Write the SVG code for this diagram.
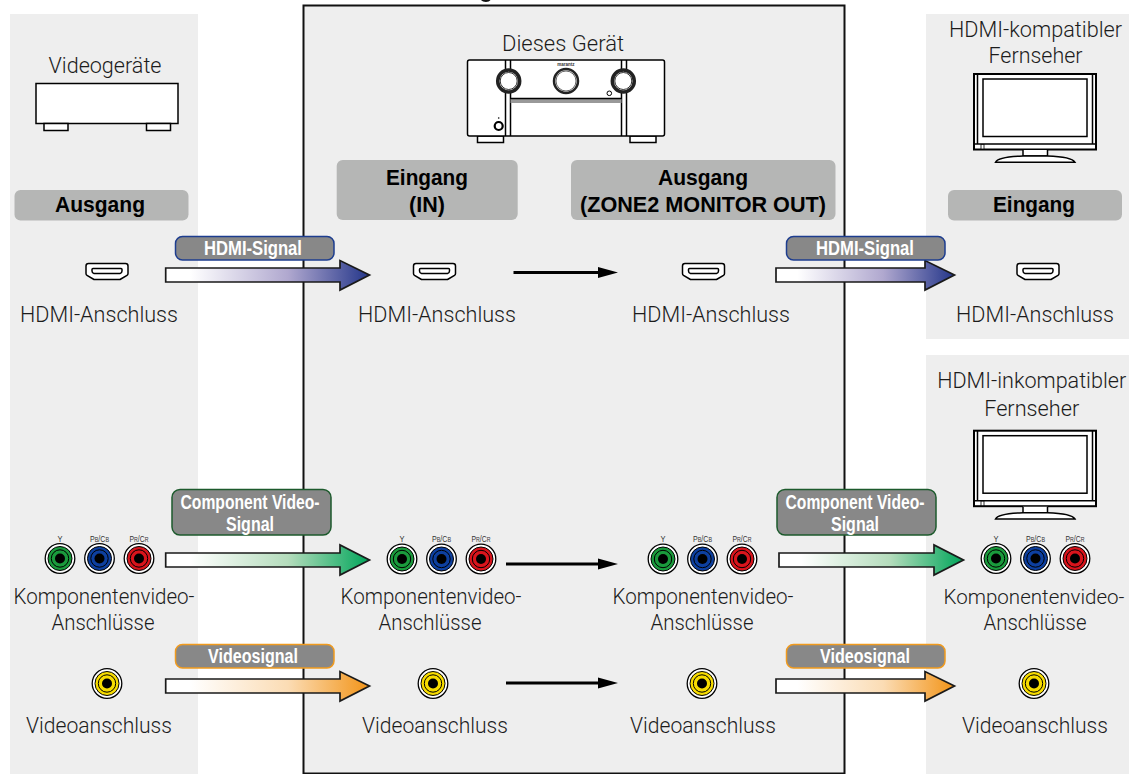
<svg xmlns="http://www.w3.org/2000/svg" width="1129" height="774" viewBox="0 0 1129 774">
<style>
text{font-family:"Liberation Sans",Arial,sans-serif}
.lb{font-family:Roboto,"Liberation Sans",sans-serif;font-weight:300;font-size:22px;fill:#1c1c1c;text-anchor:middle}
.hd{font-size:21.500px;font-weight:bold;fill:#000;text-anchor:middle}
.sg{font-size:19.500px;font-weight:bold;fill:#fff;text-anchor:middle}
.jl{font-size:8.500px;fill:#333;text-anchor:middle}
.jl tspan{font-size:6.500px}
.panel{fill:#eee}
.box{fill:#b5b6b5}
.ln{fill:#fff;stroke:#000;stroke-width:1.500}
.blk{fill:none;stroke:#000;stroke-width:1.500}
.pill{fill:#888;stroke-width:1.500}
.arr{stroke:#1a1a1a;stroke-width:1.700}
.bar{stroke:#000;stroke-width:3;fill:none}
</style>
<defs>
<linearGradient id="gB" x1="0" x2="1" y1="0" y2="0"><stop offset=".12" stop-color="#fff"/><stop offset=".6" stop-color="#b0a8cf"/><stop offset="1" stop-color="#24368a"/></linearGradient>
<linearGradient id="gG" x1="0" x2="1" y1="0" y2="0"><stop offset=".12" stop-color="#fff"/><stop offset=".6" stop-color="#b4dcbc"/><stop offset="1" stop-color="#00a55a"/></linearGradient>
<linearGradient id="gO" x1="0" x2="1" y1="0" y2="0"><stop offset=".12" stop-color="#fff"/><stop offset=".6" stop-color="#fbdcb4"/><stop offset="1" stop-color="#f29418"/></linearGradient>
<marker id="ah" markerUnits="userSpaceOnUse" markerWidth="21" markerHeight="12" refX="0" refY="6" orient="auto"><path d="M0 .5L20 6L0 11.500Z" fill="#000"/></marker>
<g id="hdmi"><path class="ln" stroke-linejoin="round" d="M-18.500-8.500H18.500Q21-8.500 21-6V1.500Q21 2.800 20 3.300L13 7.500H-13L-20 3.300Q-21 2.800-21 1.500V-6Q-21-8.500-18.500-8.500Z"/><path class="blk" stroke-width="1" stroke-linejoin="round" d="M-15-2.500Q-15-3.500-14-3.500H14Q15-3.500 15-2.500V-1Q15 1 13 1.500H-13Q-15 1-15-1Z"/></g>
<g id="j"><circle r="14.800" fill="#fff" stroke="#000" stroke-width="1.300"/></g>
<g id="jG"><use href="#j"/><circle r="12" fill="#1a9a3c" stroke="#000" stroke-width="1"/><circle r="8.700" fill="none" stroke="#000" stroke-width="1"/><circle r="5" fill="#000"/></g>
<g id="jB"><use href="#j"/><circle r="12" fill="#0d3f9f" stroke="#000" stroke-width="1"/><circle r="8.700" fill="none" stroke="#000" stroke-width="1"/><circle r="5" fill="#000"/></g>
<g id="jR"><use href="#j"/><circle r="12" fill="#d9141c" stroke="#000" stroke-width="1"/><circle r="8.700" fill="none" stroke="#000" stroke-width="1"/><circle r="5" fill="#000"/></g>
<g id="jY"><use href="#j"/><circle r="12" fill="#f7dc00" stroke="#000" stroke-width="1"/><circle r="8.700" fill="none" stroke="#000" stroke-width="1"/><circle r="5" fill="#000"/></g>
<g id="jset">
<use href="#jG" x="0" y="0"/><use href="#jB" x="39.500" y="0"/><use href="#jR" x="79" y="0"/>
<text class="jl" x="0" y="-17" textLength="5" lengthAdjust="spacingAndGlyphs">Y</text><text class="jl" x="39.500" y="-17" textLength="19" lengthAdjust="spacingAndGlyphs">P<tspan>B</tspan>/C<tspan>B</tspan></text><text class="jl" x="79" y="-17" textLength="19" lengthAdjust="spacingAndGlyphs">P<tspan>R</tspan>/C<tspan>R</tspan></text>
</g>
<g id="tv">
<rect x="974" y="74" width="122" height="75.500" fill="#fff" stroke="#000" stroke-width="2"/>
<path class="blk" d="M977.500 74V143.500M1092.500 74V143.500M974 144H1096" stroke-width="1"/>
<rect x="983" y="79" width="104" height="57.500" fill="#fff" stroke="#000" stroke-width="1.500"/>
<rect x="981" y="144.500" width="3" height="4.500" fill="#fff" stroke="#000" stroke-width=".8"/>
<path class="ln" d="M1023 150V156H1047.500V150"/>
<path class="ln" d="M995.500 162.300C997 159 1006 156.500 1023 156H1047.500C1064 156.500 1073 159 1075 162.300Z"/>
</g>
</defs>

<g id="panel-video-devices"><rect class="panel" x="10" y="14" width="188" height="760"/></g>
<g id="panel-this-unit"><rect x="303.500" y="5.500" width="541" height="768" fill="#eee" stroke="#111" stroke-width="2"/><path d="M481 0H490.500C489 2.500 483 2.500 481 0Z" fill="#111"/></g>
<g id="panel-tv-hdmi"><rect class="panel" x="926" y="14" width="203" height="325"/></g>
<g id="panel-tv-nonhdmi"><rect class="panel" x="926" y="355" width="203" height="419"/></g>

<g id="node-videogeraete">
<text class="lb" x="105" y="73" textLength="113" lengthAdjust="spacingAndGlyphs">Videogeräte</text>
<rect class="ln" x="36" y="83.500" width="142" height="40"/>
<rect class="ln" x="44" y="123.500" width="24" height="7"/><rect class="ln" x="146.500" y="123.500" width="24" height="7"/>
</g>

<g id="node-dieses-geraet">
<text class="lb" x="563" y="50.700" textLength="122" lengthAdjust="spacingAndGlyphs">Dieses Gerät</text>
<rect class="ln" x="477.500" y="136" width="26" height="6.500"/><rect class="ln" x="630" y="136" width="26" height="6.500"/>
<rect class="ln" x="467.500" y="60" width="197" height="76" rx="2"/>
<path class="blk" d="M505.500 60V136M510.500 60V136M621.500 60V136M626.500 60V136"/>
<rect x="510.500" y="99" width="111" height="4" fill="#999"/><path class="blk" d="M510.500 98.500H621.500"/>
<text x="566" y="65.500" font-size="4.500" font-weight="bold" text-anchor="middle" fill="#333">marantz</text>
<circle cx="508.700" cy="81" r="11" fill="#fff" stroke="#222" stroke-width="3.500"/><circle cx="508.700" cy="81" r="8.500" fill="#fff" stroke="#000" stroke-width=".8"/>
<circle cx="566" cy="81" r="12" fill="#fff" stroke="#222" stroke-width="2.500"/><circle cx="566" cy="81" r="10" fill="#fff" stroke="#000" stroke-width=".6"/>
<circle cx="623.300" cy="81" r="11" fill="#fff" stroke="#222" stroke-width="3.500"/><circle cx="623.300" cy="81" r="8.500" fill="#fff" stroke="#000" stroke-width=".8"/>
<circle cx="609.300" cy="93.300" r="2.300" fill="#fff" stroke="#000" stroke-width="1"/>
<circle cx="498.700" cy="126" r="4" fill="#fff" stroke="#000" stroke-width="2.200"/>
<circle cx="498.700" cy="118" r=".8" fill="#000"/>
</g>

<g id="node-tv-hdmi">
<text class="lb" x="1035.500" y="36.700" textLength="173" lengthAdjust="spacingAndGlyphs">HDMI-kompatibler</text><text class="lb" x="1035.500" y="63" textLength="94" lengthAdjust="spacingAndGlyphs">Fernseher</text>
<use href="#tv"/>
</g>
<g id="node-tv-nonhdmi">
<text class="lb" x="1031.700" y="388" textLength="189" lengthAdjust="spacingAndGlyphs">HDMI-inkompatibler</text><text class="lb" x="1031.700" y="415.700" textLength="95" lengthAdjust="spacingAndGlyphs">Fernseher</text>
<use href="#tv" y="356.700"/>
</g>

<g id="node-out-left"><rect class="box" x="14.500" y="190" width="174" height="30.500" rx="6"/><text class="hd" x="100" y="212" textLength="90" lengthAdjust="spacingAndGlyphs">Ausgang</text></g>
<g id="node-in-center"><rect class="box" x="336.700" y="160" width="181" height="60" rx="6"/><text class="hd" x="427" y="185" textLength="82" lengthAdjust="spacingAndGlyphs">Eingang</text><text class="hd" x="427" y="212">(IN)</text></g>
<g id="node-out-center"><rect class="box" x="571" y="160" width="264.500" height="60" rx="6"/><text class="hd" x="703" y="185" textLength="90" lengthAdjust="spacingAndGlyphs">Ausgang</text><text class="hd" x="703" y="212" textLength="246" lengthAdjust="spacingAndGlyphs">(ZONE2 MONITOR OUT)</text></g>
<g id="node-in-right"><rect class="box" x="948" y="190" width="174" height="30.500" rx="6"/><text class="hd" x="1034" y="212" textLength="82" lengthAdjust="spacingAndGlyphs">Eingang</text></g>

<g id="node-hdmi-1"><use href="#hdmi" x="107" y="272"/><text class="lb" x="99" y="322" textLength="158" lengthAdjust="spacingAndGlyphs">HDMI-Anschluss</text></g>
<g id="node-hdmi-2"><use href="#hdmi" x="434.500" y="272"/><text class="lb" x="437" y="322" textLength="158" lengthAdjust="spacingAndGlyphs">HDMI-Anschluss</text></g>
<g id="node-hdmi-3"><use href="#hdmi" x="703.500" y="272"/><text class="lb" x="711" y="322" textLength="158" lengthAdjust="spacingAndGlyphs">HDMI-Anschluss</text></g>
<g id="node-hdmi-4"><use href="#hdmi" x="1038" y="272"/><text class="lb" x="1035" y="322" textLength="158" lengthAdjust="spacingAndGlyphs">HDMI-Anschluss</text></g>

<g id="node-comp-1"><use href="#jset" x="60" y="558.500"/><text class="lb" x="104" y="604" textLength="181" lengthAdjust="spacingAndGlyphs">Komponentenvideo-</text><text class="lb" x="103" y="630" textLength="103" lengthAdjust="spacingAndGlyphs">Anschlüsse</text></g>
<g id="node-comp-2"><use href="#jset" x="402" y="559"/><text class="lb" x="431" y="604" textLength="181" lengthAdjust="spacingAndGlyphs">Komponentenvideo-</text><text class="lb" x="430" y="630" textLength="103" lengthAdjust="spacingAndGlyphs">Anschlüsse</text></g>
<g id="node-comp-3"><use href="#jset" x="663" y="559"/><text class="lb" x="703" y="604" textLength="181" lengthAdjust="spacingAndGlyphs">Komponentenvideo-</text><text class="lb" x="702" y="630" textLength="103" lengthAdjust="spacingAndGlyphs">Anschlüsse</text></g>
<g id="node-comp-4"><use href="#jset" x="996" y="558.500"/><text class="lb" x="1034" y="604" style="font-size:21px" textLength="181" lengthAdjust="spacingAndGlyphs">Komponentenvideo-</text><text class="lb" x="1035" y="630" textLength="103" lengthAdjust="spacingAndGlyphs">Anschlüsse</text></g>

<g id="node-video-1"><use href="#jY" x="107" y="683.500"/><text class="lb" x="99" y="733" textLength="146" lengthAdjust="spacingAndGlyphs">Videoanschluss</text></g>
<g id="node-video-2"><use href="#jY" x="433" y="683.500"/><text class="lb" x="435" y="733" textLength="146" lengthAdjust="spacingAndGlyphs">Videoanschluss</text></g>
<g id="node-video-3"><use href="#jY" x="702" y="683.500"/><text class="lb" x="703" y="733" textLength="146" lengthAdjust="spacingAndGlyphs">Videoanschluss</text></g>
<g id="node-video-4"><use href="#jY" x="1034" y="683.500"/><text class="lb" x="1035" y="733" textLength="146" lengthAdjust="spacingAndGlyphs">Videoanschluss</text></g>

<g id="connectors">
<path class="arr" fill="url(#gB)" d="M165.700 268H340V260.500L369.500 275L340 290V282H165.700Z"/>
<path class="arr" fill="url(#gG)" d="M165.700 553H340V545L369.500 560L340 575V567H165.700Z"/>
<path class="arr" fill="url(#gO)" d="M165.700 679H340V671.500L369.500 686L340 701V693H165.700Z"/>
<path class="arr" fill="url(#gB)" d="M776 268H925V260.500L954.500 275L925 290V282H776Z"/>
<path class="arr" fill="url(#gG)" d="M779 553H934V545L963.500 560L934 575V567H779Z"/>
<path class="arr" fill="url(#gO)" d="M776 679H925V671.500L954.500 686L925 701V693H776Z"/>
<path class="bar" d="M513.500 272.500H598" marker-end="url(#ah)"/>
<path class="bar" d="M506 564H598" marker-end="url(#ah)"/>
<path class="bar" d="M506 683H598" marker-end="url(#ah)"/>
</g>

<g id="signal-labels">
<g id="sig-hdmi-1"><rect class="pill" x="175.500" y="236.500" width="158.500" height="23.500" rx="7" stroke="#1d3d8f"/><text class="sg" x="253" y="255" textLength="98" lengthAdjust="spacingAndGlyphs">HDMI-Signal</text></g>
<g id="sig-hdmi-2"><rect class="pill" x="786.500" y="236.500" width="158.500" height="23.500" rx="7" stroke="#1d3d8f"/><text class="sg" x="865" y="255" textLength="98" lengthAdjust="spacingAndGlyphs">HDMI-Signal</text></g>
<g id="sig-comp-1"><rect class="pill" x="172" y="489.500" width="159" height="45.500" rx="8" stroke="#1c5a2c"/><text class="sg" x="250" y="509" textLength="139" lengthAdjust="spacingAndGlyphs">Component Video-</text><text class="sg" x="250" y="531" textLength="48" lengthAdjust="spacingAndGlyphs">Signal</text></g>
<g id="sig-comp-2"><rect class="pill" x="777" y="489.500" width="159" height="45.500" rx="8" stroke="#1c5a2c"/><text class="sg" x="855" y="509" textLength="139" lengthAdjust="spacingAndGlyphs">Component Video-</text><text class="sg" x="855" y="531" textLength="48" lengthAdjust="spacingAndGlyphs">Signal</text></g>
<g id="sig-video-1"><rect class="pill" x="175.500" y="644.500" width="158.500" height="23.500" rx="7" stroke="#f09a1e"/><text class="sg" x="253" y="663" textLength="90" lengthAdjust="spacingAndGlyphs">Videosignal</text></g>
<g id="sig-video-2"><rect class="pill" x="786.500" y="644.500" width="158.500" height="23.500" rx="7" stroke="#f09a1e"/><text class="sg" x="865" y="663" textLength="90" lengthAdjust="spacingAndGlyphs">Videosignal</text></g>
</g>
</svg>
